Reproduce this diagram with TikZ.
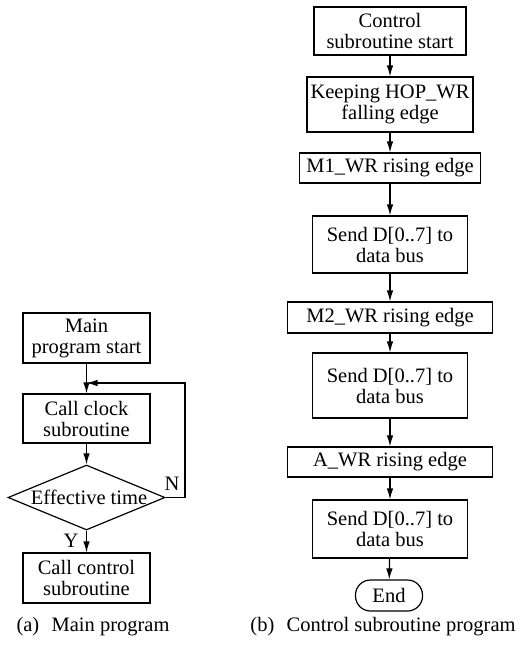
\documentclass[tikz,border=0pt]{standalone}
\usepackage{fontspec}
\setmainfont{Liberation Serif}
\usetikzlibrary{shapes.geometric,arrows.meta}
\begin{document}
\begin{tikzpicture}[x=1pt,y=-1pt,
  every node/.style={font=\fontsize{20.5}{21}\selectfont, inner sep=0pt, align=center},
  box/.style={draw, line width=1.2pt, minimum width=#1},
  arr/.style={line width=1.2pt, -{Latex[length=11pt,width=6.5pt]}},
  ln/.style={line width=1.2pt}]
\useasboundingbox (0,0) rectangle (520,649);
% left column
\node[box=127pt, minimum height=50pt] (a1) at (86.5,338) {Main\\program start};
\node[box=127pt, minimum height=49pt] (a2) at (86.5,418.5) {Call clock\\subroutine};
\node[draw, diamond, line width=1.2pt, minimum width=157pt, minimum height=65pt] (d) at (86.5,497.5) {};
\node (dt) at (89,497) {Effective time};
\node[box=127pt, minimum height=50pt] (a3) at (86.5,578) {Call control\\subroutine};
\node (nl) at (172,484) {N};
\node (yl) at (71,541) {Y};
\coordinate (lc) at (185,383);
\coordinate (j) at (86.5,383);
\draw[arr] (a1) -- (a2);
\draw[arr] (a2) -- (d);
\draw[arr] (d) -- (a3);
\draw[arr] (d.east) -| (lc) -- (j);
\node (capa) at (93,627) {(a)\hspace{0.6em}Main program};
% right column
\node[box=152pt, minimum height=48pt] (b1) at (390,31) {Control\\subroutine start};
\node[box=166pt, minimum height=55pt] (b2) at (390,104.5) {Keeping HOP\_WR\\falling edge};
\node[box=181pt, minimum height=30pt] (b3) at (390,168) {M1\_WR rising edge};
\node[box=155pt, minimum height=57pt] (b4) at (390,244.5) {Send D[0..7] to\\data bus};
\node[box=205pt, minimum height=31pt] (b5) at (390,317.5) {M2\_WR rising edge};
\node[box=155pt, minimum height=65pt] (b6) at (390,385.5) {Send D[0..7] to\\data bus};
\node[box=205pt, minimum height=30pt] (b7) at (390,462) {A\_WR rising edge};
\node[box=155pt, minimum height=58pt] (b8) at (390,529) {Send D[0..7] to\\data bus};
\node[draw, line width=1.2pt, rounded corners=15pt, minimum width=67pt, minimum height=31pt] (b9) at (389,595.5) {End};
\draw[arr] (b1) -- (b2);
\draw[arr] (b2) -- (b3);
\draw[arr] (b3) -- (b4);
\draw[arr] (b4) -- (b5);
\draw[arr] (b5) -- (b6);
\draw[arr] (b6) -- (b7);
\draw[arr] (b7) -- (b8);
\draw[arr] (b8) -- (b9);
\node (capb) at (383,627) {(b)\hspace{0.6em}Control subroutine program};
\end{tikzpicture}
\end{document}
